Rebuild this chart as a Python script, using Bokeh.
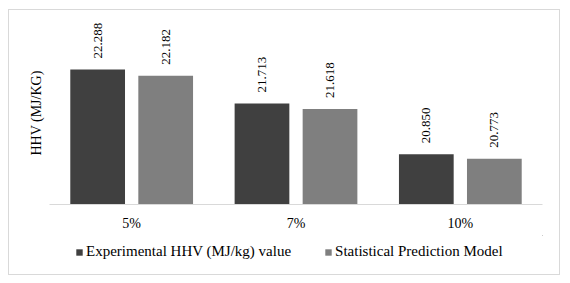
from bokeh.plotting import figure
from bokeh.layouts import column
from bokeh.models import ColumnDataSource, FactorRange, FixedTicker, LabelSet, Legend, LegendItem
from bokeh.transform import dodge
from bokeh.embed import file_html
from bokeh.resources import INLINE

categories = ["5%", "7%", "10%"]
experimental = [22.288, 21.713, 20.850]
statistical = [22.182, 21.618, 20.773]
series_names = ["Experimental HHV (MJ/kg) value", "Statistical Prediction Model"]
y_label = "HHV (MJ/KG)"

exp_labels = ["%.3f" % v for v in experimental]
stat_labels = ["%.3f" % v for v in statistical]

src = ColumnDataSource(dict(cat=categories, exp=experimental, stat=statistical,
                            exp_l=exp_labels, stat_l=stat_labels))

FONT = "Liberation Serif"
DARK = "#404040"
LIGHT = "#7f7f7f"

p = figure(x_range=FactorRange(*categories, range_padding=0), y_range=(20.0, 23.1),
           width=550, height=225, output_backend="svg", toolbar_location=None,
           min_border_left=40, min_border_right=17, min_border_top=11, min_border_bottom=31)
p.outline_line_color = None
p.grid.grid_line_color = None

off = 0.207
w = 0.333
r1 = p.vbar(x=dodge("cat", -off, range=p.x_range), top="exp", bottom=20.0, width=w,
            source=src, fill_color=DARK, line_color=None)
r2 = p.vbar(x=dodge("cat", off, range=p.x_range), top="stat", bottom=20.0, width=w,
            source=src, fill_color=LIGHT, line_color=None)

for col, lab, o in (("exp", "exp_l", -off), ("stat", "stat_l", off)):
    ls = LabelSet(x=dodge("cat", o, range=p.x_range), y=col, text=lab, source=src,
                  angle=1.5708, text_align="left", text_baseline="middle",
                  y_offset=11, text_font=FONT, text_font_size="13px", text_color="#000000")
    p.add_layout(ls)

p.xaxis.axis_line_color = "#d9d9d9"
p.xaxis.axis_line_width = 1
p.xaxis.major_tick_line_color = None
p.xaxis.minor_tick_line_color = None
p.xaxis.major_label_text_font = FONT
p.xaxis.major_label_text_font_size = "14px"
p.xaxis.major_label_text_color = "#000000"
p.xaxis.major_label_standoff = 5

p.yaxis.ticker = FixedTicker(ticks=[])
p.yaxis.axis_line_color = None
p.yaxis.major_tick_line_color = None
p.yaxis.minor_tick_line_color = None
p.yaxis.axis_label = y_label
p.yaxis.axis_label_text_font = FONT
p.yaxis.axis_label_text_font_style = "normal"
p.yaxis.axis_label_text_font_size = "14px"
p.yaxis.axis_label_text_color = "#000000"
p.yaxis.axis_label_standoff = 6

# legend strip below the chart (proxy bars lie outside this strip's visible range)
lf = figure(width=550, height=39, output_backend="svg", toolbar_location=None,
            x_axis_location=None, y_axis_location=None, x_range=(0, 1), y_range=(0, 1),
            min_border=0)
lf.outline_line_color = None
lf.grid.grid_line_color = None
d1 = lf.vbar(x="exp", top="exp", bottom="stat", width=0.1, source=src,
             fill_color=DARK, line_color=None)
d2 = lf.vbar(x="stat", top="exp", bottom="stat", width=0.1, source=src,
             fill_color=LIGHT, line_color=None)
legend = Legend(items=[LegendItem(label=series_names[0], renderers=[d1], index=0),
                       LegendItem(label=series_names[1], renderers=[d2], index=0)],
                orientation="horizontal", border_line_color=None, background_fill_alpha=0,
                label_text_font=FONT, label_text_font_size="15px", label_text_color="#000000",
                glyph_width=8, glyph_height=8, label_standoff=3, spacing=33,
                padding=0, margin=0, location=(26, 14))
lf.add_layout(legend, "center")

layout = column(p, lf, spacing=0)
layout.margin = (9, 0, 0, 8)
layout.styles = {"border": "1px solid #d9d9d9"}

open("out.html", "w").write(file_html(layout, INLINE))
